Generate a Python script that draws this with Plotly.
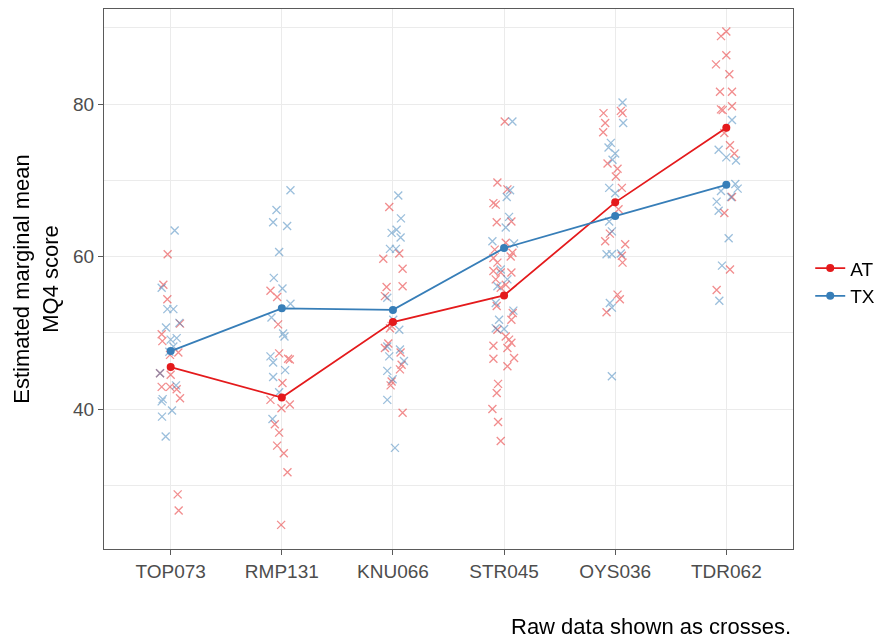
import plotly.graph_objects as go

categories = ["TOP073", "RMP131", "KNU066", "STR045", "OYS036", "TDR062"]

at_means = [45.5, 41.5, 51.4, 54.9, 67.1, 76.9]
tx_means = [47.6, 53.2, 53.0, 61.1, 65.3, 69.4]

at_raw_values = [
    [60.3, 56.3, 54.4, 51.2, 49.8, 48.9, 47.4, 47.1, 44.7, 44.5, 42.9, 42.9, 42.6, 41.4, 28.8, 26.7],
    [55.5, 54.7, 51.1, 47.3, 46.6, 46.5, 43.4, 41.2, 40.1, 40.6, 38.0, 36.9, 35.2, 34.2, 31.7, 24.8],
    [66.5, 59.7, 60.4, 58.4, 56.0, 56.1, 54.8, 50.9, 50.6, 48.6, 48.0, 47.4, 45.8, 45.2, 43.6, 43.1, 39.5],
    [77.7, 69.7, 68.8, 67.0, 66.8, 64.5, 64.6, 61.8, 60.9, 60.5, 59.8, 60.0, 59.2, 58.1, 57.9, 57.9,
     57.0, 56.3, 55.9, 53.5, 52.6, 51.7, 50.4, 49.5, 49.1, 48.7, 48.3, 48.0, 46.7, 46.6, 45.6, 43.3,
     42.1, 40.0, 38.3, 35.8],
    [78.8, 79.1, 78.8, 77.5, 76.3, 72.2, 71.5, 70.5, 69.0, 66.2, 62.0, 63.0, 61.6, 60.1, 59.2, 55.0, 54.4, 52.7],
    [89.5, 88.9, 86.4, 85.2, 83.9, 81.6, 81.6, 79.7, 79.3, 79.2, 76.2, 74.6, 73.5, 67.8, 65.7, 58.3, 55.6],
]
at_raw_jitter = [
    [-0.027, -0.066, -0.03, 0.084, -0.081, -0.075, 0.069, -0.006, -0.096, 0.0, -0.081, -0.006, 0.054, 0.084, 0.063, 0.072],
    [-0.102, -0.042, -0.033, -0.024, 0.057, 0.072, 0.006, -0.102, -0.003, 0.072, -0.063, -0.024, -0.042, 0.018, 0.051, -0.006],
    [-0.033, -0.087, 0.057, 0.087, -0.057, 0.087, -0.072, -0.012, -0.027, -0.042, -0.072, 0.069, 0.078, 0.063, -0.012, -0.021, 0.087],
    [0.006, -0.06, 0.03, -0.096, -0.075, -0.066, 0.066, 0.015, -0.084, 0.075, -0.096, 0.06, -0.06, -0.096, -0.03, 0.066,
     -0.075, 0.015, -0.03, -0.066, 0.078, 0.066, -0.06, 0.015, 0.045, 0.066, -0.096, 0.03, 0.09, -0.096, 0.03, -0.054,
     -0.066, -0.105, -0.054, -0.03],
    [-0.105, 0.051, 0.066, -0.09, -0.108, -0.069, 0.021, 0.006, 0.06, 0.03, -0.09, -0.048, 0.09, 0.06, 0.066, 0.021, 0.042, -0.078],
    [0.0, -0.048, 0.0, -0.093, 0.027, -0.057, 0.051, 0.051, -0.048, -0.033, -0.018, 0.033, 0.072, 0.051, -0.018, 0.033, -0.087],
]

tx_raw_values = [
    [63.4, 55.9, 53.1, 53.1, 51.3, 50.7, 49.1, 49.3, 48.2, 47.5, 44.7, 43.1, 41.3, 41.0, 39.8, 39.0, 36.4],
    [68.7, 66.1, 64.5, 64.0, 60.6, 57.2, 55.8, 53.8, 52.0, 49.9, 49.5, 46.9, 46.1, 45.1, 44.2, 42.2, 38.7],
    [68.0, 65.0, 63.5, 63.1, 62.5, 61.0, 61.0, 54.6, 51.7, 50.4, 48.2, 47.8, 46.9, 46.3, 45.0, 43.9, 41.2, 34.9],
    [77.7, 68.7, 67.8, 65.2, 63.8, 62.0, 61.7, 58.3, 57.0, 56.1, 53.9, 52.9, 51.7, 50.6, 50.5],
    [80.2, 77.5, 74.9, 74.3, 73.5, 72.7, 69.0, 68.3, 64.6, 63.3, 60.3, 60.3, 60.4, 53.9, 53.3, 44.3],
    [77.9, 74.0, 73.0, 72.6, 69.5, 68.9, 68.6, 67.8, 67.2, 66.0, 62.4, 58.8, 54.2],
]
tx_raw_jitter = [
    [0.036, -0.081, -0.03, 0.024, 0.078, -0.042, 0.0, 0.054, 0.024, -0.012, -0.096, 0.048, -0.072, -0.081, 0.012, -0.078, -0.045],
    [0.078, -0.048, -0.078, 0.048, -0.024, -0.072, 0.006, 0.078, -0.093, 0.012, 0.024, -0.102, -0.078, 0.03, -0.078, -0.024, -0.084],
    [0.048, 0.072, 0.033, -0.012, 0.069, -0.027, 0.027, -0.051, 0.003, 0.057, -0.051, 0.063, -0.033, 0.099, -0.051, -0.003, -0.051, 0.018],
    [0.075, 0.054, 0.024, 0.045, 0.015, -0.105, 0.09, -0.03, 0.03, -0.06, -0.075, 0.084, -0.045, -0.075, 0.0],
    [0.066, 0.072, -0.039, -0.06, 0.0, -0.024, -0.054, 0.0, -0.054, -0.03, -0.078, -0.03, 0.051, -0.048, -0.03, -0.03],
    [0.051, -0.069, 0.0, 0.087, 0.081, 0.102, -0.048, 0.042, -0.087, -0.069, 0.021, -0.039, -0.063],
]

AT_COLOR = "#E41A1C"
TX_COLOR = "#377EB8"
FONT = "Liberation Sans, Arial, sans-serif"
BORDER = "#5A5A5A"

fig = go.Figure()


def raw_trace(values, jitter, color):
    xs, ys = [], []
    for i, (vals, jits) in enumerate(zip(values, jitter)):
        for v, j in zip(vals, jits):
            xs.append(i + j)
            ys.append(v)
    return go.Scatter(
        x=xs, y=ys, mode="markers", showlegend=False, hoverinfo="y",
        opacity=0.5,
        marker=dict(symbol="x-thin", size=8, color=color, line=dict(width=1.3, color=color)),
    )


fig.add_trace(raw_trace(at_raw_values, at_raw_jitter, AT_COLOR))
fig.add_trace(raw_trace(tx_raw_values, tx_raw_jitter, TX_COLOR))

idx = list(range(len(categories)))
fig.add_trace(go.Scatter(x=idx, y=at_means, mode="lines+markers", name="AT",
                         line=dict(color=AT_COLOR, width=1.8),
                         marker=dict(color=AT_COLOR, size=8)))
fig.add_trace(go.Scatter(x=idx, y=tx_means, mode="lines+markers", name="TX",
                         line=dict(color=TX_COLOR, width=1.8),
                         marker=dict(color=TX_COLOR, size=8)))

# the page body adds an 8px offset; the figure is sized to fit the window
fig.update_layout(
    width=878, height=631,
    margin=dict(l=96, r=93, t=1, b=90),
    paper_bgcolor="white", plot_bgcolor="white",
    font=dict(family=FONT, color="#4D4D4D"),
    legend=dict(x=1.025, y=0.494, xanchor="left", yanchor="middle",
                font=dict(size=19, color="black"), bgcolor="rgba(0,0,0,0)",
                tracegroupgap=4),
    annotations=[dict(text="Raw data shown as crosses.", xref="paper", yref="paper",
                      x=1.0, y=-0.143, xanchor="right", yanchor="middle", showarrow=False,
                      font=dict(size=22, color="black", family=FONT))],
)

fig.update_xaxes(
    range=[-0.6, 5.6], tickmode="array", tickvals=idx, ticktext=categories,
    showgrid=True, gridcolor="#EBEBEB", gridwidth=1.3, zeroline=False,
    showline=True, mirror=True, linecolor=BORDER, linewidth=1.2,
    ticks="outside", ticklen=5, tickcolor=BORDER,
    tickfont=dict(size=19, color="#4D4D4D"),
)
fig.update_yaxes(
    range=[21.64, 92.46], tickmode="array", tickvals=[40, 60, 80],
    showgrid=True, gridcolor="#EBEBEB", gridwidth=1.3, zeroline=False,
    minor=dict(tickmode="array", tickvals=[30, 50, 70, 90], showgrid=True,
               gridcolor="#EBEBEB", gridwidth=0.7, ticks=""),
    showline=True, mirror=True, linecolor=BORDER, linewidth=1.2,
    ticks="outside", ticklen=5, tickcolor=BORDER,
    tickfont=dict(size=19, color="#4D4D4D"),
    title=dict(text="Estimated marginal mean<br>MQ4 score", standoff=8,
               font=dict(size=22, color="black")),
)

fig.write_html("out.html")
